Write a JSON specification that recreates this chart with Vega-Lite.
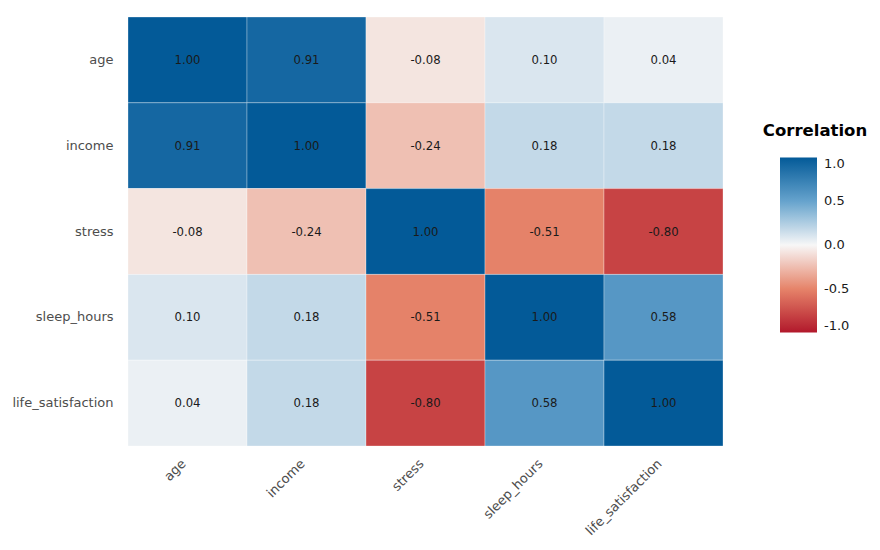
{
  "$schema": "https://vega.github.io/schema/vega-lite/v6.json",
  "autosize": "none",
  "width": 595,
  "height": 429,
  "padding": {"left": 128, "top": 17, "right": 157, "bottom": 104},
  "background": "white",
  "config": {
    "view": {"stroke": null},
    "font": "DejaVu Sans"
  },
  "data": {
    "values": [
      {"x": "age", "y": "age", "r": 1.00},
      {"x": "income", "y": "age", "r": 0.91},
      {"x": "stress", "y": "age", "r": -0.08},
      {"x": "sleep_hours", "y": "age", "r": 0.10},
      {"x": "life_satisfaction", "y": "age", "r": 0.04},
      {"x": "age", "y": "income", "r": 0.91},
      {"x": "income", "y": "income", "r": 1.00},
      {"x": "stress", "y": "income", "r": -0.24},
      {"x": "sleep_hours", "y": "income", "r": 0.18},
      {"x": "life_satisfaction", "y": "income", "r": 0.18},
      {"x": "age", "y": "stress", "r": -0.08},
      {"x": "income", "y": "stress", "r": -0.24},
      {"x": "stress", "y": "stress", "r": 1.00},
      {"x": "sleep_hours", "y": "stress", "r": -0.51},
      {"x": "life_satisfaction", "y": "stress", "r": -0.80},
      {"x": "age", "y": "sleep_hours", "r": 0.10},
      {"x": "income", "y": "sleep_hours", "r": 0.18},
      {"x": "stress", "y": "sleep_hours", "r": -0.51},
      {"x": "sleep_hours", "y": "sleep_hours", "r": 1.00},
      {"x": "life_satisfaction", "y": "sleep_hours", "r": 0.58},
      {"x": "age", "y": "life_satisfaction", "r": 0.04},
      {"x": "income", "y": "life_satisfaction", "r": 0.18},
      {"x": "stress", "y": "life_satisfaction", "r": -0.80},
      {"x": "sleep_hours", "y": "life_satisfaction", "r": 0.58},
      {"x": "life_satisfaction", "y": "life_satisfaction", "r": 1.00}
    ]
  },
  "encoding": {
    "x": {
      "field": "x", "type": "nominal",
      "sort": ["age", "income", "stress", "sleep_hours", "life_satisfaction"],
      "scale": {"paddingInner": 0, "paddingOuter": 0},
      "axis": {
        "title": null, "domain": false, "ticks": false, "grid": false,
        "labelAngle": -45, "labelAlign": "right", "labelBaseline": "top",
        "labelPadding": 11, "labelOffset": -8, "labelFontSize": 13, "labelColor": "#4d4d4d"
      }
    },
    "y": {
      "field": "y", "type": "nominal",
      "sort": ["age", "income", "stress", "sleep_hours", "life_satisfaction"],
      "scale": {"paddingInner": 0, "paddingOuter": 0},
      "axis": {
        "title": null, "domain": false, "ticks": false, "grid": false,
        "labelPadding": 15, "labelFontSize": 13, "labelColor": "#4d4d4d"
      }
    }
  },
  "layer": [
    {
      "mark": {"type": "rect", "stroke": "white", "strokeWidth": 0.6, "strokeOpacity": 0.5},
      "encoding": {
        "color": {
          "field": "r", "type": "quantitative",
          "scale": {
            "domain": [-1, -0.5, 0, 0.5, 1],
            "range": ["#b2182b", "#e6846a", "#f7f7f7", "#66a3cd", "#035a98"],
            "interpolate": "rgb"
          },
          "legend": {
            "title": "Correlation",
            "orient": "none",
            "legendX": 635,
            "legendY": 106,
            "direction": "vertical",
            "gradientLength": 175,
            "gradientThickness": 37,
            "gradientStrokeWidth": 0,
            "values": [-1, -0.5, 0, 0.5, 1],
            "format": ".1f",
            "labelExpr": "replace(datum.label, '\u2212', '-')",
            "titleFontSize": 16.5,
            "titleFontWeight": "bold",
            "titleColor": "black",
            "titleAnchor": "middle",
            "titleAlign": "center",
            "titlePadding": 18,
            "labelFontSize": 13,
            "labelColor": "#1a1a1a",
            "labelOffset": 7,
            "labelBaseline": "middle",
            "labelOverlap": false
          }
        }
      }
    },
    {
      "mark": {
        "type": "text", "fontSize": 11.7, "color": "#1a1a1a",
        "text": {"expr": "replace(format(datum.r, '.2f'), '\u2212', '-')"}
      },
      "encoding": {}
    }
  ]
}
